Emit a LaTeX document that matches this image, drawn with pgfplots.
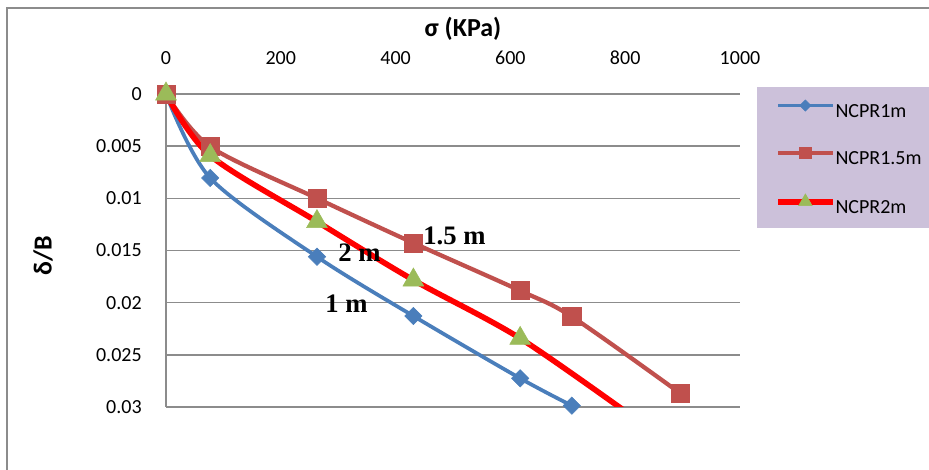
\documentclass[border=0pt]{standalone}
\usepackage{fontspec}
\setmainfont{Carlito}
\newfontfamily\timesfont{Liberation Serif}
\usepackage{pgfplots}
\pgfplotsset{compat=1.18}
\definecolor{cBlue}{HTML}{4A7EBB}
\definecolor{cBrown}{HTML}{C0504D}
\definecolor{cGreen}{HTML}{9BBB59}
\definecolor{cLeg}{HTML}{CCC1DA}
\definecolor{cGrid}{HTML}{8C8C8C}
\begin{document}
\begin{tikzpicture}[x=0.75pt,y=-0.75pt]
\useasboundingbox (0,0) rectangle (929,470);
\draw[cGrid,line width=1.2pt] (7,8) rectangle (960,500);
\begin{axis}[
  at={(124.5pt,-70.5pt)}, anchor=north west,
  scale only axis, width=430.5pt, height=234.75pt,
  xmin=0, xmax=1000, ymin=0, ymax=0.03, y dir=reverse,
  axis x line*=top, axis y line*=left,
  x axis line style={draw=none},
  y axis line style={cGrid, line width=1.2pt},
  ymajorgrids, grid style={cGrid, line width=1.2pt},
  major tick length=0pt,
  scaled y ticks=false, scaled x ticks=false,
  xtick={0,200,400,600,800,1000},
  xticklabels={0,200,400,600,800,1000},
  ytick={0,0.005,0.01,0.015,0.02,0.025,0.03},
  yticklabels={0,0.005,0.01,0.015,0.02,0.025,0.03},
  /pgf/number format/assume math mode=true,
  tick label style={font=\fontsize{15}{18}\selectfont, black},
  xticklabel shift=18.5pt,
  yticklabel shift=14.7pt,
  clip marker paths=false,
  legend style={at={(axis description cs:1.0296,1.0224)}, anchor=north west,
    fill=cLeg, draw=none, font=\fontsize{15}{18}\selectfont,
    inner xsep=13.5pt, inner ysep=9.5pt, row sep=20.5pt,
    nodes={inner sep=0pt},
    /tikz/every odd column/.append style={column sep=0pt}},
  legend cell align=left,
  legend image code/.code={\draw[#1, mark indices={2}, every mark/.append style={scale=0.65}] plot coordinates {(0pt,4.8pt)(20.5pt,4.8pt)(41pt,4.8pt)};},
]
\addplot[cBlue, line width=2.8pt, smooth, tension=0.5, mark=square*, mark size=4.6pt,
  mark options={solid, rotate=45, fill=cBlue, draw=cBlue, line width=0.4pt}]
  coordinates {(0,0) (77,0.00805) (263,0.0156) (431,0.02128) (617,0.02725) (707,0.02987)};
\addlegendentry{NCPR1m}
\addplot[cBrown, line width=3.2pt, smooth, tension=0.5, mark=square*, mark size=6.8pt,
  mark options={solid, fill=cBrown, draw=cBrown, line width=0.4pt}]
  coordinates {(0,0) (77,0.00505) (263,0.0100) (431,0.01428) (617,0.01885) (707,0.02134) (896,0.02869)};
\addlegendentry{NCPR1.5m}
\addplot[red, line width=4.2pt, smooth, tension=0.5, mark=triangle*, mark size=9pt,
  mark indices={1,2,3,4,5},
  mark options={solid, fill=cGreen, draw=cGreen, line width=0.4pt}]
  coordinates {(0,0) (77,0.0059) (263,0.01223) (431,0.01783) (617,0.02342) (830,0.0316)};
\addlegendentry{NCPR2m}
\end{axis}
\node[anchor=base, font=\fontsize{19.5}{23}\selectfont\bfseries] at (463,37) {σ (KPa)};
\node[anchor=base, rotate=90, font=\fontsize{19.5}{23}\selectfont\bfseries] at (51.5,255.5) {δ/B};
\node[anchor=base west, inner sep=0pt, font=\timesfont\fontsize{20}{23}\selectfont\bfseries] at (423,245) {1.5 m};
\node[anchor=base west, inner sep=0pt, font=\timesfont\fontsize{20}{23}\selectfont\bfseries] at (338,262) {2 m};
\node[anchor=base west, inner sep=0pt, font=\timesfont\fontsize{20}{23}\selectfont\bfseries] at (325,313) {1 m};
\end{tikzpicture}
\end{document}
